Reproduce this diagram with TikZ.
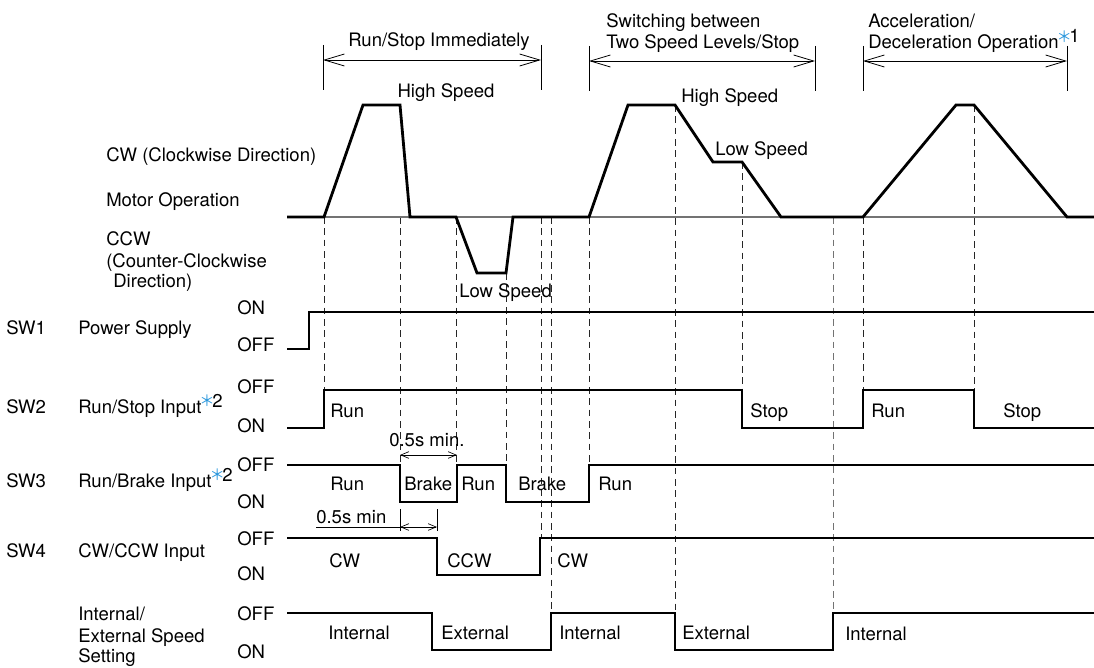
\documentclass[tikz,border=0pt]{standalone}
\usepackage{fontspec}
\setmainfont{TeX Gyre Heros}
\newfontfamily\cjkast{Noto Sans CJK JP}
\usetikzlibrary{arrows.meta}
\definecolor{ablue}{RGB}{40,150,220}
\newcommand{\lblfont}{\fontsize{13.9pt}{16pt}\selectfont}
\newcommand{\mynote}[1]{\kern-1.6pt\raisebox{5pt}{\textcolor{ablue}{\cjkast\fontsize{11.5pt}{12pt}\selectfont ＊}}\kern-1.8pt\raisebox{4.5pt}{#1}}
\tikzset{
  lbl/.style={inner sep=0pt, anchor=base west, font=\lblfont},
  lblc/.style={inner sep=0pt, anchor=base, font=\lblfont},
  sig/.style={line width=1.9pt, line join=miter},
  motor/.style={line width=2.1pt, line join=miter},
  base/.style={line width=0.8pt, black!55},
  guide/.style={line width=0.6pt, black!85, dash pattern=on 5pt off 3.5pt},
  guideg/.style={line width=0.6pt, black!55, dash pattern=on 5pt off 3.5pt},
  thinl/.style={line width=0.6pt},
  bigdim/.style={line width=0.6pt, {Straight Barb[length=15pt,width=9pt]}-{Straight Barb[length=15pt,width=9pt]}},
  smalldim/.style={line width=0.5pt, {Straight Barb[length=6pt,width=5pt]}-{Straight Barb[length=6pt,width=5pt]}}
}
\begin{document}
\begin{tikzpicture}[x=0.75pt,y=-0.75pt]
\useasboundingbox (0,0) rectangle (1094,667);

% ---- top brackets
\node[lblc] (hA) at (439,46) {Run/Stop Immediately};
\node[lbl] (hB1) at (606,28) {Switching between};
\node[lbl] (hB2) at (606,49) {Two Speed Levels/Stop};
\node[lbl] (hC1) at (868,28) {Acceleration/};
\node[lbl] (hC2) at (868,49) {Deceleration Operation\mynote{1}};

\coordinate (a1t) at (323,45); \coordinate (a1b) at (323,90);
\coordinate (a2t) at (541,45); \coordinate (a2b) at (541,90);
\draw[thinl] (a1t) -- (a1b); \draw[thinl] (a2t) -- (a2b);
\draw[bigdim] (323,60) -- (541,60);
\coordinate (b1t) at (589,46); \coordinate (b1b) at (589,91);
\coordinate (b2t) at (815,46); \coordinate (b2b) at (815,91);
\draw[thinl] (b1t) -- (b1b); \draw[thinl] (b2t) -- (b2b);
\draw[bigdim] (589,61) -- (815,61);
\coordinate (c1t) at (863,46); \coordinate (c1b) at (863,91);
\coordinate (c2t) at (1067,46); \coordinate (c2b) at (1067,91);
\draw[thinl] (c1t) -- (c1b); \draw[thinl] (c2t) -- (c2b);
\draw[bigdim] (863,61) -- (1067,61);

% ---- guide lines
\draw[guide] (324,217) -- (324,390);
\draw[guide] (400,217) -- (400,465);
\draw[guide] (456,217) -- (456,465);
\draw[guide] (506,273) -- (506,465);
\draw[guide] (541,217) -- (541,538);
\draw[guide] (551,217) -- (551,613);
\draw[guide] (589,217) -- (589,465);
\draw[guide] (675,105) -- (675,613);
\draw[guide] (742,162) -- (742,390);
\draw[guideg] (833,217) -- (833,613);
\draw[guide] (863,217) -- (863,390);
\draw[guide] (974,105) -- (974,390);

% ---- motor operation
\draw[base] (287,217) -- (1094,217);
\draw[motor] (287,217) -- (324,217) -- (363,105) -- (400,105) -- (410,217) -- (456,217)
  -- (477,273) -- (506,273) -- (513,217) -- (589,217) -- (628,105) -- (675,105)
  -- (713,162) -- (742,162) -- (781,217) -- (863,217) -- (956,105) -- (974,105)
  -- (1067,217) -- (1094,217);
\node[lblc] (hs1) at (446,97) {High Speed};
\node[lbl] (hs2) at (681,102) {High Speed};
\node[lbl] (ls1) at (715,155) {Low Speed};
\node[lbl] (ls2) at (459,297) {Low Speed};

% ---- left labels
\node[lbl] (cw) at (106,161) {CW (Clockwise Direction)};
\node[lbl] (mo) at (106,206) {Motor Operation};
\node[lbl] (ccw1) at (106,245) {CCW};
\node[lbl] (ccw2) at (106,267) {(Counter-Clockwise};
\node[lbl] (ccw3) at (113,287) {Direction)};

\node[lbl] (sw1) at (6,334) {SW1};
\node[lbl] (sw1n) at (78,334) {Power Supply};
\node[lbl] (sw1on) at (237,314) {ON};
\node[lbl] (sw1off) at (237,351) {OFF};

\node[lbl] (sw2) at (6,413) {SW2};
\node[lbl] (sw2n) at (78,413) {Run/Stop Input\mynote{2}};
\node[lbl] (sw2off) at (237,393) {OFF};
\node[lbl] (sw2on) at (237,432) {ON};

\node[lbl] (sw3) at (6,487) {SW3};
\node[lbl] (sw3n) at (78,487) {Run/Brake Input\mynote{2}};
\node[lbl] (sw3off) at (237,471) {OFF};
\node[lbl] (sw3on) at (237,508) {ON};

\node[lbl] (sw4) at (6,557) {SW4};
\node[lbl] (sw4n) at (78,557) {CW/CCW Input};
\node[lbl] (sw4off) at (237,545) {OFF};
\node[lbl] (sw4on) at (237,580) {ON};

\node[lbl] (sw5a) at (78,620) {Internal/};
\node[lbl] (sw5b) at (78,642) {External Speed};
\node[lbl] (sw5c) at (78,662) {Setting};
\node[lbl] (sw5off) at (237,620) {OFF};
\node[lbl] (sw5on) at (237,658) {ON};

% ---- signals
\draw[sig] (287,349) -- (309,349) -- (309,312) -- (1094,312);
\draw[sig] (287,428) -- (324,428) -- (324,390) -- (742,390) -- (742,428) -- (863,428)
  -- (863,390) -- (974,390) -- (974,428) -- (1094,428);
\draw[sig] (287,465) -- (400,465) -- (400,502) -- (457,502) -- (457,465) -- (506,465)
  -- (506,502) -- (589,502) -- (589,465) -- (1094,465);
\draw[sig] (287,538) -- (437,538) -- (437,575) -- (540,575) -- (540,538) -- (1094,538);
\draw[sig] (287,613) -- (432,613) -- (432,650) -- (551,650) -- (551,613) -- (675,613)
  -- (675,650) -- (833,650) -- (833,613) -- (1094,613);

% ---- signal texts
\node[lbl] (r1) at (330,417) {Run};
\node[lbl] (s1) at (750,417) {Stop};
\node[lbl] (r2) at (871,417) {Run};
\node[lbl] (s2) at (1003,417) {Stop};

\node[lbl] (b1) at (330,490) {Run};
\node[lbl] (b2) at (404,490) {Brake};
\node[lbl] (b3) at (461,490) {Run};
\node[lbl] (b4) at (518,490) {Brake};
\node[lbl] (b5) at (598,490) {Run};

\node[lbl] (d1) at (329,567) {CW};
\node[lbl] (d2) at (447,567) {CCW};
\node[lbl] (d3) at (557,567) {CW};

\node[lbl] (e1) at (328,639) {Internal};
\node[lbl] (e2) at (441,639) {External};
\node[lbl] (e3) at (559,639) {Internal};
\node[lbl] (e4) at (682,639) {External};
\node[lbl] (e5) at (845,640) {Internal};

% ---- 0.5 s dimensions
\node[lbl] (m1) at (389,446) {0.5s min.};
\draw[smalldim] (400,455) -- (457,455);
\node[lbl] (m2) at (316,523) {0.5s min};
\draw[thinl] (316,527) -- (400,527);
\draw[thinl] (400,509) -- (400,531);
\draw[thinl] (437,509) -- (437,531);
\draw[smalldim] (400,527) -- (437,527);
\end{tikzpicture}
\end{document}
